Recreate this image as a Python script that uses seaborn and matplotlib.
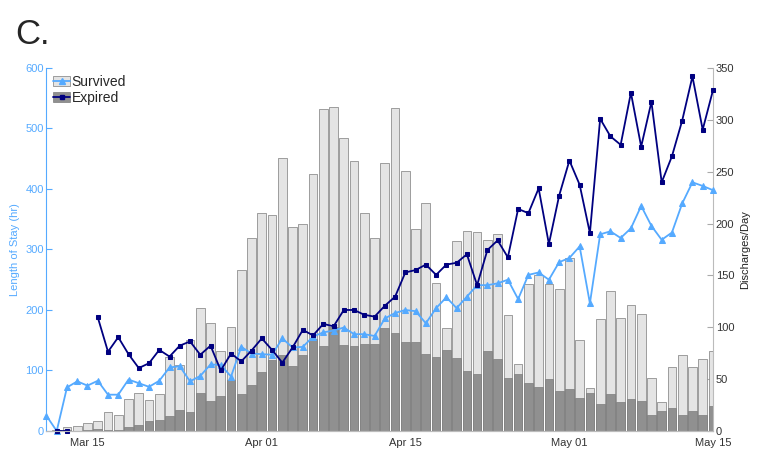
import numpy as np
import pandas as pd
import matplotlib
matplotlib.use("Agg")
import matplotlib.pyplot as plt
from matplotlib.patches import Patch
from matplotlib.lines import Line2D
import seaborn as sns

# Dias: 11 de marzo a 15 de mayo
dias = pd.date_range("2020-03-11", "2020-05-15", freq="D")

# Duracion de estancia (hr), eje izquierdo
estancia_sobrevivio = [25, 0, 72, 82, 75, 83, 60, 60, 85, 79, 73, 83, 105, 107, 82, 91, 110, 109, 90, 139, 128,
                       127, 126, 153, 138, 139, 156, 163, 166, 171, 160, 160, 157, 186, 195, 200, 198, 178, 203,
                       221, 203, 222, 241, 241, 244, 250, 218, 258, 262, 250, 279,
                       286, 305, 211, 325, 330, 319, 335, 372, 339, 316, 328, 376, 411, 405, 398]
estancia_fallecio = [np.nan, 0, 0, np.nan, np.nan, 188, 131, 155, 127, 104, 112, 134, 123, 141, 148, 126, 141, 100,
                     128, 115, 133,
                     153, 134, 113, 138, 167, 158, 177, 173, 200, 200, 192, 189, 207, 222, 262, 266, 275, 258,
                     275, 278, 292, 241, 299, 315, 287, 367, 360, 401, 309, 389,
                     447, 407, 327, 516, 487, 473, 559, 470, 544, 411, 454, 513, 586, 498, 563]

# Altas por dia, eje derecho
altas_total = [0, 1, 4, 5, 8, 10, 18, 15, 31, 37, 30, 36, 71, 64, 88, 119, 104, 77, 100, 155, 186,
               210, 208, 263, 197, 200, 248, 310, 312, 282, 260, 210, 186, 258, 311, 251, 195, 220, 143,
               99, 183, 193, 192, 184, 190, 112, 65, 142, 150, 142, 137,
               167, 88, 41, 108, 135, 109, 121, 113, 51, 28, 62, 73, 62, 69, 77]
altas_fallecidos = [0, 0, 1, 0, 1, 2, 1, 1, 4, 6, 10, 11, 14, 20, 18, 37, 29, 34, 49, 36, 44,
                    57, 68, 73, 63, 73, 89, 82, 100, 83, 82, 84, 84, 99, 94, 86, 86, 74, 71,
                    78, 70, 58, 55, 77, 69, 51, 55, 46, 42, 50, 39,
                    40, 32, 37, 26, 36, 28, 31, 29, 15, 19, 22, 15, 19, 15, 24]

etiquetas_x = ["Mar 15", "Apr 01", "Apr 15", "May 01", "May 15"]

azul_claro = "#55aaff"
azul_oscuro = "#000080"
gris_claro = "#e4e4e4"
gris_oscuro = "#909090"
borde = "#7c7c7c"

sns.set_style("white")
plt.rcParams["font.family"] = ["Liberation Sans", "DejaVu Sans"]

df = pd.DataFrame({
    "dia": np.arange(len(dias)),
    "sobrevivio": estancia_sobrevivio,
    "fallecio": estancia_fallecio,
    "total": altas_total,
    "fallecidos": altas_fallecidos,
})

fig = plt.figure(figsize=(7.57, 4.54), dpi=100)
ax = fig.add_axes([0.0614, 0.0507, 0.8804, 0.7996])
ax2 = ax.twinx()

# Barras de altas por dia
sns.barplot(data=df, x="dia", y="total", ax=ax2, color=gris_claro, saturation=1,
            width=0.85, edgecolor=borde, linewidth=0.5)
sns.barplot(data=df, x="dia", y="fallecidos", ax=ax2, color=gris_oscuro, saturation=1,
            width=0.85, edgecolor=borde, linewidth=0.5)

# Lineas de duracion de estancia
sns.lineplot(data=df, x="dia", y="sobrevivio", ax=ax, color=azul_claro, linewidth=1.3,
             marker="^", markersize=5, markeredgecolor=azul_claro, clip_on=False)
tramo1 = df[df["dia"] <= 2]
tramo2 = df[df["dia"] >= 5]
for tramo in (tramo1, tramo2):
    sns.lineplot(data=tramo, x="dia", y="fallecio", ax=ax, color=azul_oscuro, linewidth=1.3,
                 marker="s", markersize=3.2, markeredgecolor=azul_oscuro, clip_on=False)

ax.set_zorder(ax2.get_zorder() + 1)
ax.patch.set_visible(False)

# Ejes
ax.set_ylim(0, 600)
ax.set_yticks(range(0, 601, 100))
ax2.set_ylim(0, 350)
ax2.set_yticks(range(0, 351, 50))
ax.set_xlim(0, 65)
posiciones = [list(dias.strftime("%b %d")).index(e) for e in etiquetas_x]
ax.set_xticks(posiciones)
ax.set_xticklabels(etiquetas_x)
ax2.set_xticks(posiciones)
ax2.set_xticklabels(etiquetas_x)

ax.set_xlabel("")
ax2.set_xlabel("")
ax.set_ylabel("Length of Stay (hr)", color=azul_claro, fontsize=8, labelpad=4)
ax2.set_ylabel("Discharges/Day", color="#222222", fontsize=8, labelpad=4)

ax.tick_params(axis="y", colors=azul_claro, labelsize=8, direction="in", length=4, pad=2)
ax.tick_params(axis="x", colors="#333333", labelsize=8, length=0, pad=5)
ax2.tick_params(axis="y", colors="#aaaaaa", labelcolor="#333333", labelsize=8, direction="in",
                length=4, pad=2)
ax2.tick_params(axis="x", length=0)

for a in (ax, ax2):
    a.spines["top"].set_visible(False)
    a.spines["bottom"].set_color("#bbbbbb")
ax.spines["left"].set_color(azul_claro)
ax.spines["right"].set_visible(False)
ax2.spines["left"].set_visible(False)
ax2.spines["right"].set_color("#bbbbbb")

# Leyenda
manejadores = [
    (Patch(facecolor=gris_claro, edgecolor=borde, linewidth=0.5),
     Line2D([], [], color=azul_claro, marker="^", markersize=4.5, linewidth=1.3)),
    (Patch(facecolor=gris_oscuro, edgecolor=borde, linewidth=0.5),
     Line2D([], [], color=azul_oscuro, marker="s", markersize=3, linewidth=1.3)),
]
leg = ax.legend(manejadores, ["Survived", "Expired"], loc="upper left", bbox_to_anchor=(0.0, 1.0),
                frameon=False, fontsize=10, handlelength=1.2, handleheight=0.8, handletextpad=0.1,
                labelspacing=0.15, borderaxespad=0.2, borderpad=0.3)

fig.text(0.02, 0.903, "C.", fontsize=25, va="baseline", ha="left")

plt.savefig("out.png", dpi=100)
